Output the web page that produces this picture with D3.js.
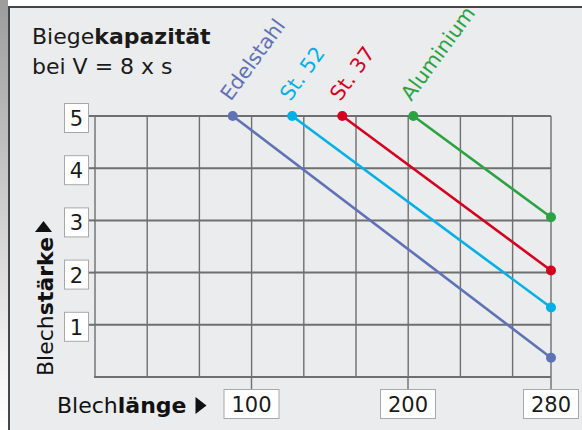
<!DOCTYPE html>
<html>
<head>
<meta charset="utf-8">
<script src="https://cdn.jsdelivr.net/npm/d3@7"></script>
<style>
  body { margin: 0; background: #fff; }
  svg { display: block; font-family: "DejaVu Sans", sans-serif; }
  .tick-box { fill: #fff; stroke: #a8a8a8; stroke-width: 1; }
</style>
</head>
<body>
<svg class="chart" width="582" height="430"></svg>
<script>
// values
const materials = ['Edelstahl', 'St. 52', 'St. 37', 'Aluminium']
const colors = ['#5f72b6', '#00b0e6', '#d5001f', '#2ba343']
const startLength = [88, 126, 158, 203]
const startThickness = [5, 5, 5, 5]
const endLength = [280, 280, 280, 280]
const endThickness = [0.37, 1.33, 2.04, 3.06]
const yTicks = [1, 2, 3, 4, 5]
const xTicks = [100, 200, 280]

const svg = d3.select('.chart')

// x is not linear in the drawing: 280 sits at the frame's right edge
const x = d3.scaleLinear().domain([0, 100, 200, 280]).range([95, 251.5, 408, 551])
const y = d3.scaleLinear().domain([0, 5]).range([377, 116])

// page shadow + panel
const defs = svg.append('defs')
const grad = defs.append('linearGradient')
  .attr('id', 'shade').attr('x1', 0).attr('y1', 0).attr('x2', 0).attr('y2', 1)
grad.append('stop').attr('offset', '0').attr('stop-color', '#9c9c9c')
grad.append('stop').attr('offset', '0.85').attr('stop-color', '#f4f4f4')
grad.append('stop').attr('offset', '1').attr('stop-color', '#ffffff')
svg.append('rect').attr('x', 0).attr('y', 0).attr('width', 8).attr('height', 430).attr('fill', 'url(#shade)')

svg.append('rect')
  .attr('x', 9).attr('y', 7).attr('width', 600).attr('height', 440)
  .attr('fill', '#ebeced')
  .attr('stroke', '#464646').attr('stroke-width', 2)

// title
const title = svg.append('text').attr('x', 32).attr('y', 44)
  .attr('font-size', 22).attr('fill', '#1a1a1a')
title.append('tspan').text('Biege')
title.append('tspan').text('kapazität').attr('font-weight', 'bold')
svg.append('text').attr('x', 32).attr('y', 74)
  .attr('font-size', 22).attr('fill', '#1a1a1a')
  .text('bei V = 8 x s')

// grid: square cells, one thickness unit wide
const cell = y(0) - y(1)
const cols = d3.range(0, 9)
const grid = svg.append('g').attr('stroke', '#6f6f6f')
grid.selectAll('.vline')
  .data(cols)
  .enter()
  .append('line')
  .attr('class', 'vline')
  .attr('x1', d => x(0) + d * cell).attr('x2', d => x(0) + d * cell)
  .attr('y1', y(5)).attr('y2', y(0))
  .attr('stroke-width', 1.4)
grid.append('line')
  .attr('x1', x(280)).attr('x2', x(280))
  .attr('y1', y(5)).attr('y2', y(0))
  .attr('stroke-width', 1.4)
grid.selectAll('.hline')
  .data([0].concat(yTicks))
  .enter()
  .append('line')
  .attr('class', 'hline')
  .attr('x1', x(0) - 1).attr('x2', x(280))
  .attr('y1', d => y(d)).attr('y2', d => y(d))
  .attr('stroke-width', 2)

// y tick boxes
const yt = svg.append('g').selectAll('g').data(yTicks).enter().append('g')
  .attr('transform', d => `translate(0,${y(d) + 2})`)
yt.append('line').attr('x1', 89).attr('x2', x(0)).attr('y1', -2).attr('y2', -2)
  .attr('stroke', '#6f6f6f').attr('stroke-width', 2)
yt.append('rect').attr('class', 'tick-box')
  .attr('x', 64.5).attr('y', -14.5).attr('width', 24).attr('height', 29)
yt.append('text').attr('x', 76.5).attr('y', 8)
  .attr('text-anchor', 'middle').attr('font-size', 21).attr('fill', '#1a1a1a')
  .text(d => d)

// x tick boxes
const xt = svg.append('g').selectAll('g').data(xTicks).enter().append('g')
  .attr('transform', d => `translate(${x(d)},0)`)
xt.append('line').attr('x1', 0).attr('x2', 0).attr('y1', y(0)).attr('y2', 389)
  .attr('stroke', '#6f6f6f').attr('stroke-width', 1.4)
xt.append('rect').attr('class', 'tick-box')
  .attr('x', -27.5).attr('y', 389.5).attr('width', 55).attr('height', 29)
xt.append('text').attr('x', 0).attr('y', 412)
  .attr('text-anchor', 'middle').attr('font-size', 21).attr('fill', '#1a1a1a')
  .text(d => d)

// axis titles, arrow placed right after the text
const xl = svg.append('text').attr('x', 57).attr('y', 413)
  .attr('font-size', 22).attr('fill', '#111')
xl.append('tspan').text('Blech')
xl.append('tspan').text('länge').attr('font-weight', 'bold')
const xEnd = 57 + xl.node().getComputedTextLength() + 9
svg.append('path')
  .attr('d', `M${xEnd},397 L${xEnd + 11},405.5 L${xEnd},414 Z`)
  .attr('fill', '#111')

const yl = svg.append('g').attr('transform', 'translate(53,376) rotate(-90)')
const ylt = yl.append('text').attr('x', 0).attr('y', 0)
  .attr('font-size', 22).attr('fill', '#111')
ylt.append('tspan').text('Blech')
ylt.append('tspan').text('stärke').attr('font-weight', 'bold')
const yEnd = ylt.node().getComputedTextLength() + 5
yl.append('path')
  .attr('d', `M${yEnd},-18 L${yEnd + 11},-9.5 L${yEnd},-1 Z`)
  .attr('fill', '#111')

// series
const series = materials.map((m, i) => ({
  name: m,
  color: colors[i],
  x1: startLength[i], y1: startThickness[i],
  x2: endLength[i], y2: endThickness[i]
}))

const s = svg.append('g').selectAll('g').data(series).enter().append('g')
s.append('line')
  .attr('x1', d => x(d.x1)).attr('y1', d => y(d.y1))
  .attr('x2', d => x(d.x2)).attr('y2', d => y(d.y2))
  .attr('stroke', d => d.color).attr('stroke-width', 2.6)
s.append('circle').attr('cx', d => x(d.x1)).attr('cy', d => y(d.y1)).attr('r', 5)
  .attr('fill', d => d.color)
s.append('circle').attr('cx', d => x(d.x2)).attr('cy', d => y(d.y2)).attr('r', 5)
  .attr('fill', d => d.color)
s.append('text')
  .attr('transform', d => `translate(${x(d.x1) - 2},${y(d.y1) - 14}) rotate(-54)`)
  .attr('font-size', 20.5)
  .attr('fill', d => d.color)
  .text(d => d.name)
</script>
</body>
</html>
